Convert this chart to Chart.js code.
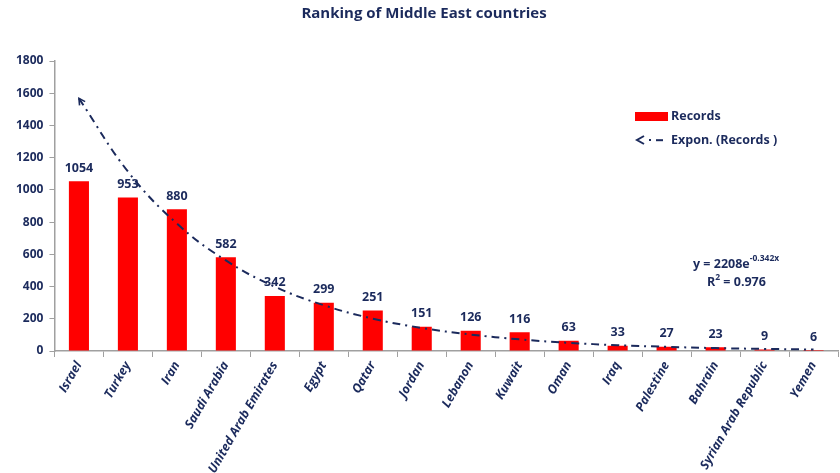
<!DOCTYPE html>
<html>
<head>
<meta charset="utf-8">
<script src="https://cdn.jsdelivr.net/npm/chart.js@4.4.0/dist/chart.umd.min.js"></script>
<style>
  html, body { margin: 0; padding: 0; background: #fff; }
  #wrap { width: 840px; height: 473px; }
</style>
</head>
<body>
<div id="wrap"><canvas id="chart"></canvas></div>
<script>
const countries = ['Israel', 'Turkey', 'Iran', 'Saudi Arabia', 'United Arab Emirates', 'Egypt', 'Qatar', 'Jordan',
  'Lebanon', 'Kuwait', 'Oman', 'Iraq', 'Palestine', 'Bahrain', 'Syrian Arab Republic', 'Yemen'];
const records = [1054, 953, 880, 582, 342, 299, 251, 151, 126, 116, 63, 33, 27, 23, 9, 6];
// trendline (Excel exponential fit)
const trend = [1568, 1114, 791, 562, 399, 284, 201, 143, 102, 72, 51, 36, 26, 18, 13, 9];
const yTicks = [0, 200, 400, 600, 800, 1000, 1200, 1400, 1600, 1800];

const navy = '#1b2a5c';
const red = '#ff0000';
const fontFamily = '"Open Sans", Lato, sans-serif';

const overlay = {
  id: 'overlay',
  afterDatasetsDraw(chart) {
    const ctx = chart.ctx;
    ctx.save();
    ctx.fillStyle = navy;
    ctx.font = 'bold 12.5px ' + fontFamily;
    ctx.textAlign = 'center';
    ctx.textBaseline = 'middle';

    // value labels above bars
    const bars = chart.getDatasetMeta(0).data;
    bars.forEach((bar, i) => {
      ctx.fillText(String(records[i]), bar.x, bar.y - 13);
    });

    // arrow head at start of trendline
    const pts = chart.getDatasetMeta(1).data;
    const p0 = pts[0], p1 = pts[1];
    const ang = Math.atan2(p0.y - p1.y, p0.x - p1.x);
    ctx.strokeStyle = navy;
    ctx.lineWidth = 1.6;
    ctx.beginPath();
    ctx.moveTo(p0.x - 7 * Math.cos(ang - 0.5), p0.y - 7 * Math.sin(ang - 0.5));
    ctx.lineTo(p0.x, p0.y);
    ctx.lineTo(p0.x - 7 * Math.cos(ang + 0.5), p0.y - 7 * Math.sin(ang + 0.5));
    ctx.stroke();

    // legend
    ctx.textAlign = 'left';
    ctx.fillStyle = red;
    ctx.fillRect(635, 112, 33, 9);
    ctx.fillStyle = navy;
    ctx.fillText('Records', 671, 116);
    ctx.lineWidth = 2;
    ctx.beginPath();
    ctx.moveTo(644, 136);
    ctx.lineTo(637, 140);
    ctx.lineTo(644, 144);
    ctx.stroke();
    ctx.fillRect(649, 139, 2, 2);
    ctx.fillRect(656, 139.2, 7, 2);
    ctx.fillText('Expon. (Records )', 671, 140);

    // equation
    ctx.font = 'bold 12.5px ' + fontFamily;
    const eq = 'y = 2208e';
    const w = ctx.measureText(eq).width;
    ctx.fillText(eq, 693, 264);
    ctx.font = 'bold 8.5px ' + fontFamily;
    ctx.fillText('-0.342x', 693 + w, 259);
    ctx.font = 'bold 12.5px ' + fontFamily;
    ctx.fillText('R', 707, 282);
    const wr = ctx.measureText('R').width;
    ctx.font = 'bold 8.5px ' + fontFamily;
    ctx.fillText('2', 707 + wr, 278);
    const w2 = ctx.measureText('2').width;
    ctx.font = 'bold 12.5px ' + fontFamily;
    ctx.fillText(' = 0.976', 707 + wr + w2, 282);
    ctx.restore();
  }
};

new Chart(document.getElementById('chart'), {
  type: 'bar',
  data: {
    labels: countries,
    datasets: [
      {
        type: 'bar',
        label: 'Records',
        data: records,
        backgroundColor: red,
        barPercentage: 0.82,
        categoryPercentage: 0.5,
        order: 2
      },
      {
        type: 'line',
        label: 'Expon. (Records )',
        data: trend,
        borderColor: navy,
        borderWidth: 2,
        borderDash: [8, 5, 2, 5],
        pointRadius: 0,
        tension: 0.4,
        fill: false,
        order: 1
      }
    ]
  },
  options: {
    responsive: true,
    maintainAspectRatio: false,
    animation: false,
    layout: { padding: { left: 10, right: 2, top: 0, bottom: 0 } },
    plugins: {
      legend: { display: false },
      tooltip: { enabled: false },
      title: {
        display: true,
        text: 'Ranking of Middle East countries',
        color: navy,
        font: { family: fontFamily, size: 15, weight: 'bold' },
        padding: { top: 5, bottom: 38 }
      }
    },
    scales: {
      x: {
        afterFit(axis) { axis.height = 122; },
        grid: { display: true, drawOnChartArea: false, drawTicks: true, tickLength: 6, color: '#a0a0a0', offset: true },
        border: { color: '#a0a0a0', width: 1.5 },
        ticks: {
          color: navy,
          minRotation: 60,
          maxRotation: 60,
          autoSkip: false,
          padding: 2,
          font: { family: fontFamily, size: 12.5, weight: 'bold', style: 'italic' }
        }
      },
      y: {
        min: 0,
        max: 1800,
        afterBuildTicks(axis) { axis.ticks = yTicks.map(v => ({ value: v })); },
        grid: { display: true, drawOnChartArea: false, drawTicks: true, tickLength: 5, color: '#a0a0a0' },
        border: { color: '#a0a0a0', width: 1.5 },
        ticks: {
          color: navy,
          padding: 6,
          callback: v => String(v),
          font: { family: fontFamily, size: 12, weight: 'bold' }
        }
      }
    }
  },
  plugins: [overlay]
});
</script>
</body>
</html>
